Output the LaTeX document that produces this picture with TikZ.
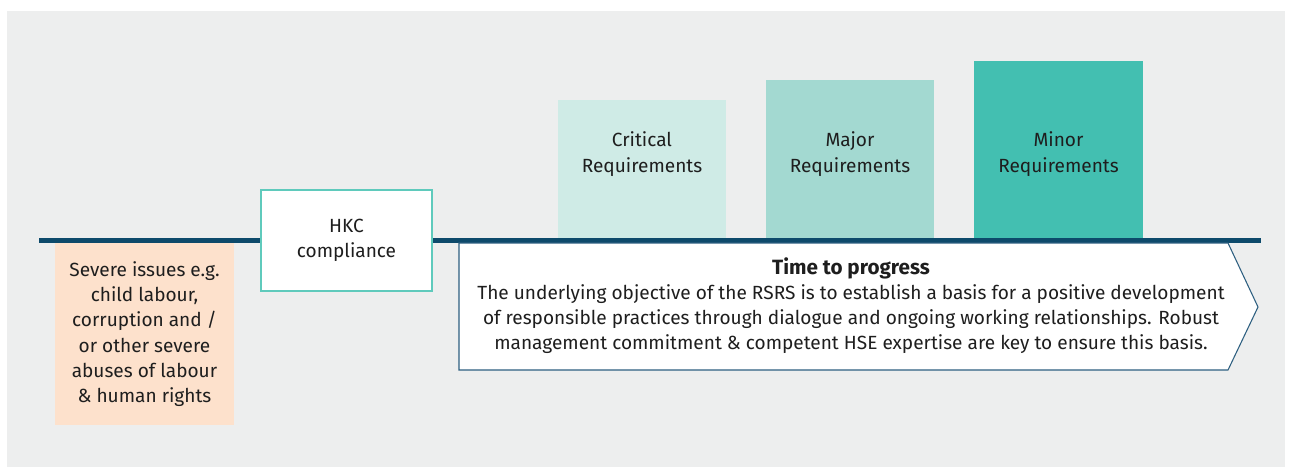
\documentclass[tikz,border=0pt]{standalone}
\usepackage{fontspec}
\setmainfont{Fira Sans}
\usepackage{xcolor}
\definecolor{bggrey}{RGB}{237,238,238}
\definecolor{peach}{RGB}{253,225,204}
\definecolor{tealline}{RGB}{95,202,188}
\definecolor{critfill}{RGB}{207,235,230}
\definecolor{majfill}{RGB}{163,217,209}
\definecolor{minfill}{RGB}{67,191,177}
\definecolor{navy}{RGB}{13,74,107}
\definecolor{arrowline}{RGB}{45,95,128}
\definecolor{inktext}{RGB}{30,30,30}

\tikzset{
  boxtext/.style={align=center, text=inktext, font=\fontsize{14.3}{19}\selectfont},
}

\begin{document}
\begin{tikzpicture}[x=0.75pt,y=0.75pt,yscale=-1,xscale=1]
\path [use as bounding box] (0,0) rectangle (1292,469);

%Shape: Rectangle [background]
\fill [color=bggrey] (7,11) rectangle (1285,467);
%Shape: Rectangle [severe issues]
\fill [color=peach] (55,243) rectangle (234,425);
%Shape: Rectangle [critical]
\fill [color=critfill] (558,100) rectangle (726,238);
%Shape: Rectangle [major]
\fill [color=majfill] (766,80) rectangle (934,238);
%Shape: Rectangle [minor]
\fill [color=minfill] (974,61) rectangle (1143,238);

%Straight Lines [timeline]
\coordinate (lineL) at (39,240);
\coordinate (lineR) at (1261,240);
\draw [color=navy, line width=3.75pt] (lineL) -- (lineR);

%Shape: Rectangle [hkc]
\draw [color=tealline, fill=white, line width=1.1pt] (261,190) rectangle (432,291);
%Shape: Pentagon arrow [progress]
\draw [color=arrowline, fill=white, line width=0.8pt] (459,243) -- (1228,243) -- (1258,307) -- (1228,370) -- (459,370) -- cycle ;

% Text Node
\node [boxtext] (severe) at (144.5,334) {Severe issues e.g.\\child labour,\\corruption and /\\or other severe\\abuses of labour\\\& human rights};
% Text Node
\node [boxtext] (hkc) at (346.5,240.5) {HKC\\compliance};
% Text Node
\node [boxtext] (critical) at (642,154) {Critical\\Requirements};
% Text Node
\node [boxtext] (major) at (850,154) {Major\\Requirements};
% Text Node
\node [boxtext] (minor) at (1058.5,154) {Minor\\Requirements};
% Text Node
\node [align=center, text=inktext, font=\bfseries\fontsize{15.5}{19}\selectfont] (progress) at (851,268) {Time to progress};
% Text Node
\node [align=center, text=inktext, font=\fontsize{14.3}{19}\selectfont] (objective) at (851,319) {The underlying objective of the RSRS is to establish a basis for a positive development\\of responsible practices through dialogue and ongoing working relationships. Robust\\management commitment \& competent HSE expertise are key to ensure this basis.};

\end{tikzpicture}
\end{document}
